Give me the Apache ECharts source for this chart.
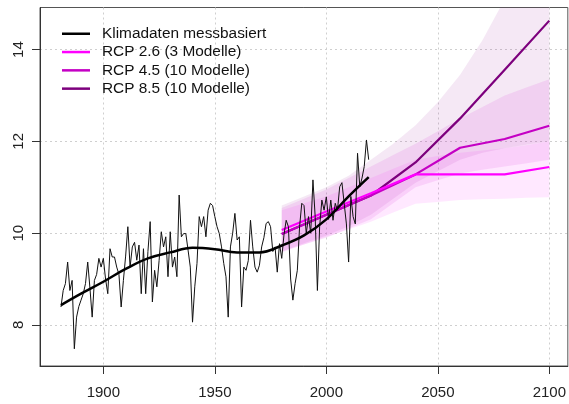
<!DOCTYPE html>
<html>
<head>
<meta charset="utf-8">
<script src="https://cdn.jsdelivr.net/npm/echarts@6/dist/echarts.min.js"></script>
<style>
html,body{margin:0;padding:0;background:#fff;}
#chart{width:569px;height:404px;}
</style>
</head>
<body>
<div id="chart"></div>
<script>
// ---- data ----
const measuredStartYear = 1881;
const measuredTemps = [
  8.39, 8.75, 8.90, 9.37, 8.75, 8.97, 7.48, 8.17, 8.40, 8.54,
  8.68, 8.90, 9.37, 8.80, 8.17, 8.97, 9.10, 9.45, 9.26, 9.45,
  9.00, 8.68, 9.66, 9.48, 9.48, 9.26, 9.10, 8.39, 8.97, 9.50,
  10.14, 9.26, 9.70, 9.80, 9.41, 9.74, 8.68, 9.66, 8.68, 9.60,
  10.25, 8.50, 9.19, 8.83, 9.40, 10.03, 9.70, 9.92, 9.05, 10.03,
  9.26, 9.48, 9.05, 10.83, 9.92, 9.99, 9.99, 9.63, 9.26, 8.06,
  8.83, 9.34, 10.36, 10.14, 10.36, 9.92, 10.50, 10.65, 10.60, 10.36,
  10.14, 9.99, 9.70, 9.34, 9.05, 8.17, 9.70, 10.00, 10.43, 9.85,
  9.92, 8.39, 9.26, 9.19, 9.40, 10.28, 9.70, 9.26, 9.15, 9.30,
  9.70, 9.90, 10.21, 10.25, 10.14, 9.60, 9.70, 9.15, 9.77, 9.45,
  9.96, 10.28, 10.14, 9.00, 8.54, 8.90, 9.19, 10.14, 10.65, 10.60,
  9.99, 10.36, 10.00, 11.16, 10.36, 8.75, 10.14, 10.72, 10.50, 10.79,
  10.30, 10.72, 10.28, 10.65, 10.50, 11.01, 11.10, 10.65, 10.20, 9.37,
  10.80, 10.36, 10.20, 11.74, 11.01, 11.20, 11.45, 12.03, 11.60
];
const smoothYears = [1881, 1890, 1900, 1910, 1920, 1930, 1940, 1950, 1960, 1970, 1980, 1990, 2000, 2010, 2019];
const smoothTemps = [8.43, 8.68, 8.94, 9.22, 9.45, 9.58, 9.68, 9.65, 9.58, 9.58, 9.73, 9.95, 10.30, 10.80, 11.22];

const projYears = [1980, 2000, 2020, 2040, 2060, 2080, 2100];
const rcp26 = [10.07, 10.47, 10.87, 11.28, 11.28, 11.28, 11.44];
const rcp45 = [9.98, 10.40, 10.82, 11.28, 11.86, 12.05, 12.34];
const rcp85 = [9.98, 10.40, 10.82, 11.54, 12.50, 13.56, 14.63];

const bandYears = [1980, 1990, 2000, 2010, 2020, 2030, 2040, 2050, 2060, 2070, 2080, 2090, 2100];
const rcp26Low  = [9.58, 9.75, 9.92, 10.08, 10.25, 10.45, 10.64, 10.68, 10.72, 10.74, 10.75, 10.77, 10.78];
const rcp26High = [10.50, 10.65, 10.80, 11.00, 11.20, 11.40, 11.60, 11.68, 11.75, 11.80, 11.85, 11.92, 12.00];
const rcp45Low  = [9.60, 9.75, 9.90, 10.10, 10.30, 10.65, 11.00, 11.15, 11.30, 11.38, 11.45, 11.52, 11.60];
const rcp45High = [10.55, 10.75, 10.95, 11.20, 11.45, 11.70, 11.95, 12.22, 12.50, 12.75, 13.00, 13.18, 13.35];
const rcp85Low  = [9.60, 9.78, 9.95, 10.15, 10.40, 10.75, 11.10, 11.35, 11.60, 11.75, 11.85, 11.93, 12.00];
const rcp85High = [10.60, 10.80, 11.00, 11.25, 11.60, 11.95, 12.35, 12.85, 13.45, 14.20, 15.10, 16.00, 16.90];

const xTicks = [1900, 1950, 2000, 2050, 2100];
const yTicks = [8, 10, 12, 14];

const legendNames = ['Klimadaten messbasiert', 'RCP 2.6 (3 Modelle)', 'RCP 4.5 (10 Modelle)', 'RCP 8.5 (10 Modelle)'];

// ---- build ----
const pairs = (xs, ys) => xs.map((x, i) => [x, ys[i]]);
const measuredPairs = measuredTemps.map((v, i) => [measuredStartYear + i, v]);

function band(name, lows, highs, color) {
  return {
    type: 'custom', name: name, coordinateSystem: 'cartesian2d', clip: true, silent: true, z: 1,
    data: [[bandYears[0], lows[0]]],
    renderItem: function (params, api) {
      const top = bandYears.map((x, i) => api.coord([x, highs[i]]));
      const bot = bandYears.map((x, i) => api.coord([x, lows[i]])).reverse();
      return { type: 'polygon', shape: { points: top.concat(bot) }, style: { fill: color } };
    }
  };
}

const font = 'Liberation Sans, Arial, sans-serif';
const gridLine = { show: true, lineStyle: { color: '#cfcfcf', type: [2, 3], width: 1 } };

const option = {
  animation: false,
  backgroundColor: '#fff',
  grid: { left: 40, right: -2, top: 7.5, bottom: 38, show: true, borderColor: '#555', borderWidth: 1, backgroundColor: 'transparent' },
  xAxis: {
    type: 'value', min: 1871.6, max: 2108.3,
    axisLine: { show: true, lineStyle: { color: '#333' } },
    axisTick: { show: true, length: 8, customValues: xTicks, lineStyle: { color: '#333' } },
    axisLabel: { customValues: xTicks, fontSize: 15, fontFamily: font, color: '#222', margin: 19,
      formatter: v => String(v) },
    splitLine: gridLine
  },
  yAxis: {
    type: 'value', min: 7.105, max: 14.916,
    axisLine: { show: true, lineStyle: { color: '#333' } },
    axisTick: { show: true, length: 8, customValues: yTicks, lineStyle: { color: '#333' } },
    axisLabel: { customValues: yTicks, fontSize: 15, fontFamily: font, color: '#222', rotate: 90, margin: 14,
      formatter: v => String(v) },
    splitLine: gridLine
  },
  legend: {
    data: legendNames, orient: 'vertical', left: 62, top: 25, padding: 0,
    icon: 'rect', itemWidth: 28, itemHeight: 2.5, itemGap: 0.8,
    textStyle: { fontSize: 15.4, fontFamily: font, color: '#111', lineHeight: 17.5, padding: [0, 0, 0, 7] }
  },
  series: [
    band('b85', rcp85Low, rcp85High, 'rgba(139,0,139,0.09)'),
    band('b45', rcp45Low, rcp45High, 'rgba(205,0,205,0.10)'),
    band('b26', rcp26Low, rcp26High, 'rgba(255,0,255,0.09)'),
    { type: 'line', name: legendNames[3], data: pairs(projYears, rcp85), symbol: 'none', color: '#7d007d',
      lineStyle: { width: 2.2, color: '#7d007d' }, z: 3 },
    { type: 'line', name: legendNames[2], data: pairs(projYears, rcp45), symbol: 'none', color: '#c400c4',
      lineStyle: { width: 2.2, color: '#c400c4' }, z: 3 },
    { type: 'line', name: legendNames[1], data: pairs(projYears, rcp26), symbol: 'none', color: '#ff00ff',
      lineStyle: { width: 2.2, color: '#ff00ff' }, z: 3 },
    { type: 'line', name: 'measured_thin', data: measuredPairs, symbol: 'none',
      lineStyle: { width: 1, color: '#111' }, z: 4 },
    { type: 'line', name: legendNames[0], data: pairs(smoothYears, smoothTemps), symbol: 'none', smooth: 0.4, color: '#000',
      lineStyle: { width: 2.5, color: '#000' }, z: 5 }
  ]
};

const chart = echarts.init(document.getElementById('chart'), null, { renderer: 'canvas' });
chart.setOption(option);
</script>
</body>
</html>
